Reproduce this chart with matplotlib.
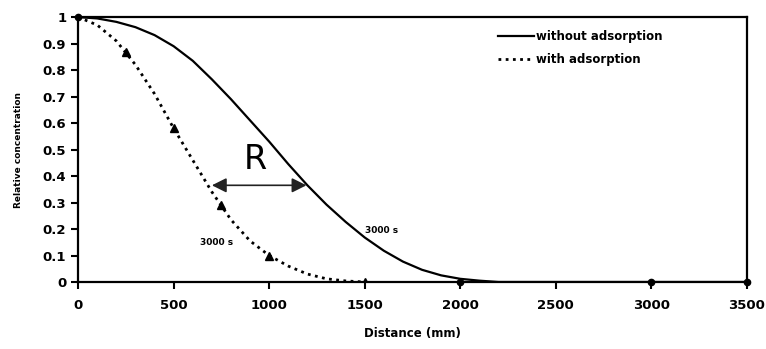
import matplotlib.pyplot as plt

# distance (mm) and relative concentration, without adsorption
dist_free = [0, 100, 200, 300, 400, 500, 600, 700, 800, 900, 1000, 1100, 1200,
             1300, 1400, 1500, 1600, 1700, 1800, 1900, 2000, 2100, 2200, 3500]
conc_free = [1.0, 0.995, 0.982, 0.962, 0.932, 0.89, 0.835, 0.765, 0.69, 0.61, 0.53,
             0.445, 0.365, 0.292, 0.227, 0.168, 0.118, 0.077, 0.046, 0.025, 0.012,
             0.005, 0.0, 0.0]

# with adsorption
dist_ads = [0, 100, 200, 300, 400, 500, 600, 700, 800, 900, 1000, 1100, 1200,
            1300, 1400, 1500]
conc_ads = [1.0, 0.97, 0.91, 0.82, 0.71, 0.58, 0.46, 0.34, 0.235, 0.155, 0.1,
            0.06, 0.03, 0.012, 0.004, 0.0]

# measured points
tri_x = [250, 500, 750, 1000, 1500]
tri_y = [0.87, 0.58, 0.29, 0.1, 0.0]
dot_x = [0, 2000, 3000, 3500]
dot_y = [1.0, 0.0, 0.0, 0.0]

xticks = [0, 500, 1000, 1500, 2000, 2500, 3000, 3500]
yticks = [0, 0.1, 0.2, 0.3, 0.4, 0.5, 0.6, 0.7, 0.8, 0.9, 1]
ytick_labels = ["0", "0.1", "0.2", "0.3", "0.4", "0.5", "0.6", "0.7", "0.8", "0.9", "1"]

# retardation arrow between the two fronts
r_left, r_right, r_level = 700, 1195, 0.365

plt.rcParams["font.family"] = ["DejaVu Sans"]
plt.rcParams["font.weight"] = "bold"

fig = plt.figure(figsize=(7.66, 3.49), dpi=100)
ax = fig.add_axes([0.102, 0.192, 0.873, 0.759])

ax.plot(dist_free, conc_free, color="black", lw=1.6, label="without adsorption")
ax.plot(dist_ads, conc_ads, color="black", lw=2.0, linestyle=(0, (1, 1.6)),
        label="with adsorption")
ax.plot(tri_x, tri_y, "^", color="black", ms=6, zorder=5)
ax.plot(dot_x, dot_y, "o", color="black", ms=4.5, zorder=5, clip_on=False)

ax.annotate("", xy=(r_left, r_level), xytext=(r_right, r_level),
            arrowprops=dict(arrowstyle="<|-|>", color="#222222", lw=1.2,
                            mutation_scale=22, shrinkA=0, shrinkB=0))
ax.text((r_left + r_right) / 2 - 20, r_level + 0.035, "R", fontsize=24,
        fontweight="normal", ha="center", va="bottom")

ax.text(727, 0.15, "3000 s", fontsize=6.5, ha="center", va="center")
ax.text(1500, 0.196, "3000 s", fontsize=6.5, ha="left", va="center")

ax.set_xlim(0, 3500)
ax.set_ylim(0, 1)
ax.set_xticks(xticks)
ax.set_yticks(yticks)
ax.set_yticklabels(ytick_labels)
ax.tick_params(axis="both", direction="out", length=5, width=1.5, labelsize=9.5)
ax.tick_params(axis="x", pad=7)
for side in ["left", "bottom", "top", "right"]:
    ax.spines[side].set_linewidth(1.6)

ax.set_xlabel("Distance (mm)", fontsize=8.5, fontweight="bold", labelpad=11)
ax.set_ylabel("Relative concentration", fontsize=6.5, fontweight="bold", labelpad=14)

leg = ax.legend(loc="upper right", bbox_to_anchor=(0.89, 0.99), frameon=False,
                fontsize=8.5, handlelength=3.0, handletextpad=0.2, labelspacing=0.8)

fig.savefig("out.png", dpi=100)
